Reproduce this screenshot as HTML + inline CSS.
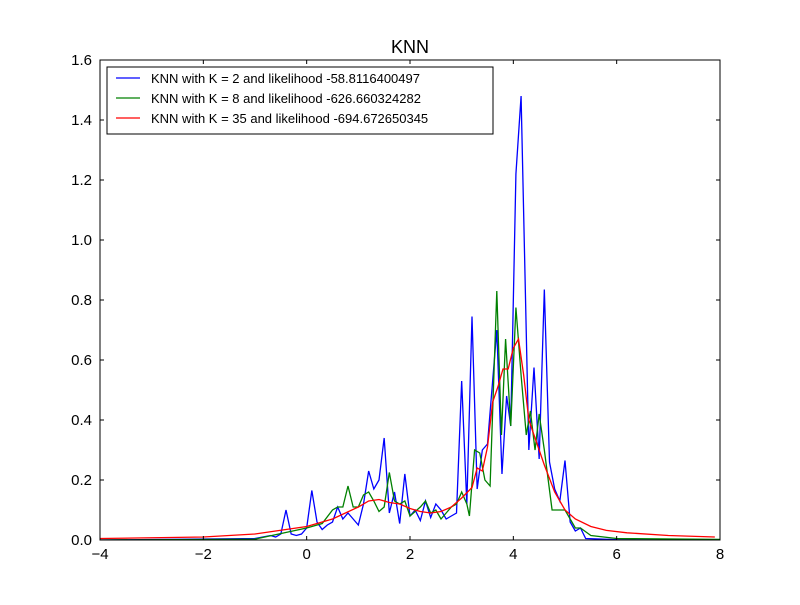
<!DOCTYPE html>
<html><head><meta charset="utf-8"><style>body{margin:0;background:#fff}svg{font-family:"Liberation Sans","DejaVu Sans",sans-serif}</style></head>
<body>
<svg id="chart" width="800" height="600" viewBox="0 0 800 600" xmlns="http://www.w3.org/2000/svg"></svg>
<script>
const xTicks=[-4,-2,0,2,4,6,8];
const yTicks=[0.0,0.2,0.4,0.6,0.8,1.0,1.2,1.4,1.6];
const blueX=[-4,-1,-0.7,-0.6,-0.5,-0.4,-0.3,-0.2,-0.1,0,0.1,0.2,0.3,0.4,0.5,0.6,0.7,0.8,0.9,1.0,1.1,1.2,1.3,1.4,1.5,1.6,1.7,1.8,1.9,2.0,2.1,2.2,2.3,2.4,2.5,2.6,2.7,2.8,2.9,3.0,3.1,3.2,3.3,3.4,3.5,3.68,3.78,3.87,3.95,4.05,4.15,4.3,4.4,4.5,4.6,4.7,4.8,4.9,5.0,5.1,5.2,5.3,5.4,6,8];
const blueY=[0,0.005,0.015,0.01,0.02,0.1,0.02,0.015,0.02,0.04,0.165,0.06,0.035,0.05,0.06,0.11,0.07,0.09,0.07,0.05,0.12,0.23,0.17,0.2,0.34,0.09,0.16,0.055,0.22,0.08,0.1,0.065,0.13,0.075,0.12,0.1,0.07,0.08,0.09,0.53,0.12,0.745,0.17,0.3,0.32,0.7,0.22,0.48,0.38,1.22,1.48,0.3,0.575,0.27,0.835,0.26,0.17,0.13,0.265,0.06,0.03,0.04,0.005,0.001,0];
const greenX=[-4,-1,0,0.3,0.5,0.6,0.7,0.8,0.9,1.0,1.1,1.2,1.3,1.4,1.5,1.6,1.7,1.8,1.9,2.0,2.2,2.3,2.4,2.5,2.6,2.7,2.8,2.9,3.0,3.1,3.15,3.25,3.35,3.45,3.55,3.68,3.77,3.85,3.95,4.05,4.15,4.25,4.33,4.42,4.5,4.6,4.75,4.9,5.0,5.1,5.2,5.3,5.5,6,8];
const greenY=[0,0.003,0.04,0.055,0.1,0.11,0.11,0.18,0.11,0.11,0.15,0.16,0.13,0.095,0.11,0.225,0.13,0.12,0.13,0.08,0.11,0.13,0.09,0.1,0.07,0.09,0.11,0.12,0.16,0.12,0.08,0.3,0.29,0.2,0.18,0.83,0.35,0.67,0.38,0.775,0.55,0.35,0.43,0.3,0.42,0.3,0.1,0.1,0.1,0.07,0.04,0.04,0.015,0.005,0.002];
const redX=[-4,-2,-1,0,0.5,1,1.2,1.4,1.6,1.8,2.0,2.2,2.4,2.6,2.8,3.0,3.2,3.3,3.4,3.5,3.6,3.7,3.8,3.9,4.0,4.1,4.2,4.3,4.4,4.5,4.6,4.8,5.0,5.2,5.5,5.8,6.2,7,7.9];
const redY=[0.005,0.01,0.02,0.045,0.07,0.11,0.13,0.135,0.125,0.12,0.105,0.095,0.09,0.095,0.11,0.14,0.175,0.24,0.23,0.31,0.46,0.51,0.57,0.57,0.64,0.67,0.55,0.4,0.35,0.3,0.25,0.16,0.1,0.07,0.045,0.032,0.024,0.015,0.01];
const seriesNames=["KNN with K = 2 and likelihood -58.8116400497","KNN with K = 8 and likelihood -626.660324282","KNN with K = 35 and likelihood -694.672650345"];
const L=100,R=720,T=60,B=540;
const sx=v=>L+(v+4)/12*(R-L);
const sy=v=>B-v/1.6*(B-T);
const svg=document.getElementById('chart');
const NS='http://www.w3.org/2000/svg';
function mk(tag,attrs,parent){const e=document.createElementNS(NS,tag);for(const k in attrs)e.setAttribute(k,attrs[k]);(parent||svg).appendChild(e);return e;}
const clip=mk('clipPath',{id:'pc'});mk('rect',{x:L,y:T,width:R-L,height:B-T},clip);
function line(xs,ys,color,name){const p=mk('polyline',{points:xs.map((x,i)=>sx(x)+','+sy(ys[i])).join(' '),fill:'none',stroke:color,'stroke-width':1.3,'clip-path':'url(#pc)'});

}
line(blueX,blueY,'#0000ff','series-k2-line');
line(greenX,greenY,'#008000','series-k8-line');
line(redX,redY,'#ff0000','series-k35-line');
const frame=mk('rect',{x:L,y:T,width:R-L,height:B-T,fill:'none',stroke:'#000','stroke-width':1});


xTicks.forEach(v=>{const x=sx(v);mk('line',{x1:x,x2:x,y1:B,y2:B-4,stroke:'#000'});mk('line',{x1:x,x2:x,y1:T,y2:T+4,stroke:'#000'});
const t=mk('text',{x:x,y:B+19,'text-anchor':'middle','font-size':15});t.textContent=(v<0?'\u2212':'')+Math.abs(v);

});
yTicks.forEach(v=>{const y=sy(v);mk('line',{x1:L,x2:L+4,y1:y,y2:y,stroke:'#000'});mk('line',{x1:R,x2:R-4,y1:y,y2:y,stroke:'#000'});
const t=mk('text',{x:L-8,y:y+5,'text-anchor':'end','font-size':15});t.textContent=v.toFixed(1);

});
const title=mk('text',{x:410,y:53,'text-anchor':'middle','font-size':18});title.textContent='KNN';


const lg=mk('g',{});


mk('rect',{x:107,y:67,width:386,height:67,fill:'#fff',stroke:'#000'},lg);
const cols=['#0000ff','#008000','#ff0000'];
seriesNames.forEach((n,i)=>{const y=78+i*20;const g=mk('g',{},lg);


mk('line',{x1:116,x2:140,y1:y,y2:y,stroke:cols[i],'stroke-width':1.3},g);
const t=mk('text',{x:151,y:y+5,'font-size':13},g);t.textContent=n;});
</script>
</body></html>
